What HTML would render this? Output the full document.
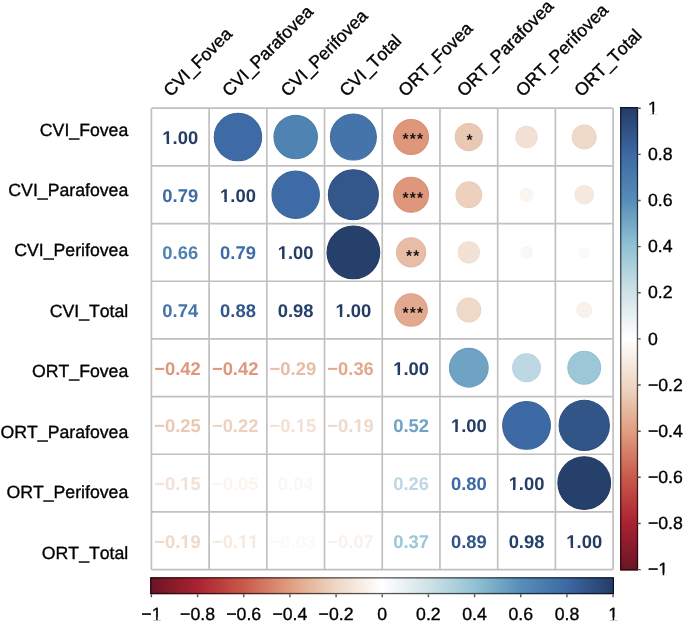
<!DOCTYPE html><html><head><meta charset="utf-8"><title>corrplot</title><style>html,body{margin:0;padding:0;background:#fff;width:685px;height:622px;overflow:hidden}svg{display:block;filter:blur(0.3px)}text{font-family:"Liberation Sans",sans-serif;text-rendering:geometricPrecision;font-kerning:none}.lab text{stroke:#000;stroke-width:0.35px}</style></head><body>
<svg width="685" height="622" viewBox="0 0 685 622">
<defs>
<linearGradient id="gv" gradientUnits="userSpaceOnUse" x1="0" y1="569.6" x2="0" y2="108.2"><stop offset="0.0" stop-color="#6a1525"/><stop offset="0.1" stop-color="#aa2231"/><stop offset="0.2" stop-color="#c95a4b"/><stop offset="0.3" stop-color="#e09e80"/><stop offset="0.4" stop-color="#eed7c5"/><stop offset="0.5" stop-color="#ffffff"/><stop offset="0.6" stop-color="#cfe2e8"/><stop offset="0.7" stop-color="#92c2d4"/><stop offset="0.8" stop-color="#568eb8"/><stop offset="0.9" stop-color="#3d69a4"/><stop offset="1.0" stop-color="#243c66"/></linearGradient>
<linearGradient id="gh" gradientUnits="userSpaceOnUse" x1="151.4" y1="0" x2="613.1" y2="0"><stop offset="0.0" stop-color="#6a1525"/><stop offset="0.1" stop-color="#aa2231"/><stop offset="0.2" stop-color="#c95a4b"/><stop offset="0.3" stop-color="#e09e80"/><stop offset="0.4" stop-color="#eed7c5"/><stop offset="0.5" stop-color="#ffffff"/><stop offset="0.6" stop-color="#cfe2e8"/><stop offset="0.7" stop-color="#92c2d4"/><stop offset="0.8" stop-color="#568eb8"/><stop offset="0.9" stop-color="#3d69a4"/><stop offset="1.0" stop-color="#243c66"/></linearGradient>
</defs>
<circle cx="237.97" cy="137.04" r="23.71" fill="#3e6ba5" stroke="#3a649a" stroke-width="1.1"/>
<circle cx="295.68" cy="137.04" r="21.72" fill="#4e83b2" stroke="#497ca8" stroke-width="1.1"/>
<circle cx="353.39" cy="137.04" r="22.97" fill="#4574aa" stroke="#406d9f" stroke-width="1.1"/>
<circle cx="411.11" cy="137.04" r="17.45" fill="#de977b" stroke="#d69176" stroke-width="1.1"/>
<text x="405.51" y="144.02" font-size="15.5" font-weight="bold" text-anchor="middle" fill="#111">*</text><text x="412.71" y="144.02" font-size="15.5" font-weight="bold" text-anchor="middle" fill="#111">*</text><text x="419.91" y="144.02" font-size="15.5" font-weight="bold" text-anchor="middle" fill="#111">*</text>
<circle cx="468.82" cy="137.04" r="13.60" fill="#eac9b4" stroke="#e5c4b0" stroke-width="1.1"/>
<text x="469.42" y="145.02" font-size="15.5" font-weight="bold" text-anchor="middle" fill="#111">*</text>
<circle cx="526.53" cy="137.04" r="10.67" fill="#f2e1d4" stroke="#efded1" stroke-width="1.1"/>
<circle cx="584.24" cy="137.04" r="11.93" fill="#efd9c8" stroke="#ebd5c4" stroke-width="1.1"/>
<circle cx="295.68" cy="194.71" r="23.71" fill="#3e6ba5" stroke="#3a649a" stroke-width="1.1"/>
<circle cx="353.39" cy="194.71" r="24.99" fill="#33578b" stroke="#2f5081" stroke-width="1.1"/>
<circle cx="411.11" cy="194.71" r="17.45" fill="#de977b" stroke="#d69176" stroke-width="1.1"/>
<text x="405.51" y="203.49" font-size="15.5" font-weight="bold" text-anchor="middle" fill="#111">*</text><text x="412.71" y="203.49" font-size="15.5" font-weight="bold" text-anchor="middle" fill="#111">*</text><text x="419.91" y="203.49" font-size="15.5" font-weight="bold" text-anchor="middle" fill="#111">*</text>
<circle cx="468.82" cy="194.71" r="12.80" fill="#edd1be" stroke="#e8cdba" stroke-width="1.1"/>
<circle cx="526.53" cy="194.71" r="6.41" fill="#fbf5f0" stroke="#f9f4ef" stroke-width="1.1"/>
<circle cx="584.24" cy="194.71" r="9.22" fill="#f6e9df" stroke="#f3e6dd" stroke-width="1.1"/>
<circle cx="353.39" cy="252.39" r="26.34" fill="#26406c" stroke="#233a63" stroke-width="1.1"/>
<circle cx="411.11" cy="252.39" r="14.60" fill="#e8bda6" stroke="#e2b8a2" stroke-width="1.1"/>
<text x="409.11" y="261.27" font-size="15.5" font-weight="bold" text-anchor="middle" fill="#111">*</text><text x="416.31" y="261.27" font-size="15.5" font-weight="bold" text-anchor="middle" fill="#111">*</text>
<circle cx="468.82" cy="252.39" r="10.67" fill="#f2e1d4" stroke="#efded1" stroke-width="1.1"/>
<circle cx="526.53" cy="252.39" r="5.80" fill="#f5f9fa" stroke="#f4f8f9" stroke-width="1.1"/>
<circle cx="584.24" cy="252.39" r="5.10" fill="#fcf9f6" stroke="#fbf8f5" stroke-width="1.1"/>
<circle cx="411.11" cy="310.06" r="16.20" fill="#e3a98e" stroke="#dca489" stroke-width="1.1"/>
<text x="405.51" y="318.24" font-size="15.5" font-weight="bold" text-anchor="middle" fill="#111">*</text><text x="412.71" y="318.24" font-size="15.5" font-weight="bold" text-anchor="middle" fill="#111">*</text><text x="419.91" y="318.24" font-size="15.5" font-weight="bold" text-anchor="middle" fill="#111">*</text>
<circle cx="468.82" cy="310.06" r="11.93" fill="#efd9c8" stroke="#ebd5c4" stroke-width="1.1"/>
<circle cx="584.24" cy="310.06" r="7.48" fill="#f9f1eb" stroke="#f7efe9" stroke-width="1.1"/>
<circle cx="468.82" cy="367.74" r="19.35" fill="#6ea3c3" stroke="#699cba" stroke-width="1.1"/>
<circle cx="526.53" cy="367.74" r="13.86" fill="#bdd8e2" stroke="#b9d3dd" stroke-width="1.1"/>
<circle cx="584.24" cy="367.74" r="16.42" fill="#9bc7d7" stroke="#96c1d0" stroke-width="1.1"/>
<circle cx="526.53" cy="425.41" r="23.86" fill="#3d69a4" stroke="#396299" stroke-width="1.1"/>
<circle cx="584.24" cy="425.41" r="25.13" fill="#325588" stroke="#2e4e7e" stroke-width="1.1"/>
<circle cx="584.24" cy="483.09" r="26.34" fill="#26406c" stroke="#233a63" stroke-width="1.1"/>
<text x="180.26" y="144.04" font-size="18.4" font-weight="bold" text-anchor="middle" fill="#243c66">1.00</text>
<text x="180.26" y="201.71" font-size="18.4" font-weight="bold" text-anchor="middle" fill="#3e6ba5">0.79</text>
<text x="237.97" y="201.71" font-size="18.4" font-weight="bold" text-anchor="middle" fill="#243c66">1.00</text>
<text x="180.26" y="259.39" font-size="18.4" font-weight="bold" text-anchor="middle" fill="#4e83b2">0.66</text>
<text x="237.97" y="259.39" font-size="18.4" font-weight="bold" text-anchor="middle" fill="#3e6ba5">0.79</text>
<text x="295.68" y="259.39" font-size="18.4" font-weight="bold" text-anchor="middle" fill="#243c66">1.00</text>
<text x="180.26" y="317.06" font-size="18.4" font-weight="bold" text-anchor="middle" fill="#4574aa">0.74</text>
<text x="237.97" y="317.06" font-size="18.4" font-weight="bold" text-anchor="middle" fill="#33578b">0.88</text>
<text x="295.68" y="317.06" font-size="18.4" font-weight="bold" text-anchor="middle" fill="#26406c">0.98</text>
<text x="353.39" y="317.06" font-size="18.4" font-weight="bold" text-anchor="middle" fill="#243c66">1.00</text>
<text x="177.46" y="374.74" font-size="18.4" font-weight="bold" text-anchor="middle" fill="#de977b">−0.42</text>
<text x="235.17" y="374.74" font-size="18.4" font-weight="bold" text-anchor="middle" fill="#de977b">−0.42</text>
<text x="292.88" y="374.74" font-size="18.4" font-weight="bold" text-anchor="middle" fill="#e8bda6">−0.29</text>
<text x="350.59" y="374.74" font-size="18.4" font-weight="bold" text-anchor="middle" fill="#e3a98e">−0.36</text>
<text x="411.11" y="374.74" font-size="18.4" font-weight="bold" text-anchor="middle" fill="#243c66">1.00</text>
<text x="177.46" y="432.41" font-size="18.4" font-weight="bold" text-anchor="middle" fill="#eac9b4">−0.25</text>
<text x="235.17" y="432.41" font-size="18.4" font-weight="bold" text-anchor="middle" fill="#edd1be">−0.22</text>
<text x="292.88" y="432.41" font-size="18.4" font-weight="bold" text-anchor="middle" fill="#f2e1d4">−0.15</text>
<text x="350.59" y="432.41" font-size="18.4" font-weight="bold" text-anchor="middle" fill="#efd9c8">−0.19</text>
<text x="411.11" y="432.41" font-size="18.4" font-weight="bold" text-anchor="middle" fill="#6ea3c3">0.52</text>
<text x="468.82" y="432.41" font-size="18.4" font-weight="bold" text-anchor="middle" fill="#243c66">1.00</text>
<text x="177.46" y="490.09" font-size="18.4" font-weight="bold" text-anchor="middle" fill="#f2e1d4">−0.15</text>
<text x="235.17" y="490.09" font-size="18.4" font-weight="bold" text-anchor="middle" fill="#fbf5f0">−0.05</text>
<text x="295.68" y="490.09" font-size="18.4" font-weight="bold" text-anchor="middle" fill="#f5f9fa">0.04</text>
<text x="411.11" y="490.09" font-size="18.4" font-weight="bold" text-anchor="middle" fill="#bdd8e2">0.26</text>
<text x="468.82" y="490.09" font-size="18.4" font-weight="bold" text-anchor="middle" fill="#3d69a4">0.80</text>
<text x="526.53" y="490.09" font-size="18.4" font-weight="bold" text-anchor="middle" fill="#243c66">1.00</text>
<text x="177.46" y="547.76" font-size="18.4" font-weight="bold" text-anchor="middle" fill="#efd9c8">−0.19</text>
<text x="235.17" y="547.76" font-size="18.4" font-weight="bold" text-anchor="middle" fill="#f6e9df">−0.11</text>
<text x="292.88" y="547.76" font-size="18.4" font-weight="bold" text-anchor="middle" fill="#fcf9f6">−0.03</text>
<text x="350.59" y="547.76" font-size="18.4" font-weight="bold" text-anchor="middle" fill="#f9f1eb">−0.07</text>
<text x="411.11" y="547.76" font-size="18.4" font-weight="bold" text-anchor="middle" fill="#9bc7d7">0.37</text>
<text x="468.82" y="547.76" font-size="18.4" font-weight="bold" text-anchor="middle" fill="#325588">0.89</text>
<text x="526.53" y="547.76" font-size="18.4" font-weight="bold" text-anchor="middle" fill="#26406c">0.98</text>
<text x="584.24" y="547.76" font-size="18.4" font-weight="bold" text-anchor="middle" fill="#243c66">1.00</text>
<path d="M151.40 108.2V569.6M151.4 108.20H613.1M209.11 108.2V569.6M151.4 165.88H613.1M266.83 108.2V569.6M151.4 223.55H613.1M324.54 108.2V569.6M151.4 281.23H613.1M382.25 108.2V569.6M151.4 338.90H613.1M439.96 108.2V569.6M151.4 396.57H613.1M497.68 108.2V569.6M151.4 454.25H613.1M555.39 108.2V569.6M151.4 511.93H613.1M613.10 108.2V569.6M151.4 569.60H613.1" stroke="#c0c0c0" stroke-width="1.7" fill="none"/>
<g class="lab"><text x="128.30" y="135.50" font-size="17.7" text-anchor="end">CVI_Fovea</text><text x="128.30" y="195.97" font-size="17.7" text-anchor="end">CVI_Parafovea</text><text x="128.30" y="256.44" font-size="17.7" text-anchor="end">CVI_Perifovea</text><text x="128.30" y="316.91" font-size="17.7" text-anchor="end">CVI_Total</text><text x="128.30" y="377.38" font-size="17.7" text-anchor="end">ORT_Fovea</text><text x="128.30" y="437.85" font-size="17.7" text-anchor="end">ORT_Parafovea</text><text x="128.30" y="498.32" font-size="17.7" text-anchor="end">ORT_Perifovea</text><text x="128.30" y="558.79" font-size="17.7" text-anchor="end">ORT_Total</text></g>
<g class="lab"><text x="170.70" y="97.60" font-size="17.7" transform="rotate(-45 170.70 97.60)">CVI_Fovea</text><text x="229.40" y="97.60" font-size="17.7" transform="rotate(-45 229.40 97.60)">CVI_Parafovea</text><text x="288.10" y="97.60" font-size="17.7" transform="rotate(-45 288.10 97.60)">CVI_Perifovea</text><text x="346.80" y="97.60" font-size="17.7" transform="rotate(-45 346.80 97.60)">CVI_Total</text><text x="405.50" y="97.60" font-size="17.7" transform="rotate(-45 405.50 97.60)">ORT_Fovea</text><text x="464.20" y="97.60" font-size="17.7" transform="rotate(-45 464.20 97.60)">ORT_Parafovea</text><text x="522.90" y="97.60" font-size="17.7" transform="rotate(-45 522.90 97.60)">ORT_Perifovea</text><text x="581.60" y="97.60" font-size="17.7" transform="rotate(-45 581.60 97.60)">ORT_Total</text></g>
<rect x="620.1" y="107.0" width="18.0" height="463.5" fill="url(#gv)"/><rect x="620.75" y="107.65" width="16.7" height="462.2" fill="none" stroke="#000" stroke-opacity="0.65" stroke-width="1.3"/>
<path d="M637.3 108.20H640.7M637.3 154.34H640.7M637.3 200.48H640.7M637.3 246.62H640.7M637.3 292.76H640.7M637.3 338.90H640.7M637.3 385.04H640.7M637.3 431.18H640.7M637.3 477.32H640.7M637.3 523.46H640.7M637.3 569.60H640.7" stroke="#5a5246" stroke-width="1.4"/>
<rect x="150.1" y="577.2" width="463.9" height="17.0" fill="url(#gh)"/><rect x="150.75" y="577.85" width="462.6" height="15.7" fill="none" stroke="#000" stroke-opacity="0.65" stroke-width="1.3"/>
<path d="M151.40 594.2V597.2M197.57 594.2V597.2M243.74 594.2V597.2M289.91 594.2V597.2M336.08 594.2V597.2M382.25 594.2V597.2M428.42 594.2V597.2M474.59 594.2V597.2M520.76 594.2V597.2M566.93 594.2V597.2M613.10 594.2V597.2" stroke="#5a5246" stroke-width="1.4"/>
<g class="lab"><text x="647.90" y="113.80" font-size="17.7">1</text><text x="647.90" y="159.94" font-size="17.7">0.8</text><text x="647.90" y="206.08" font-size="17.7">0.6</text><text x="647.90" y="252.22" font-size="17.7">0.4</text><text x="647.90" y="298.36" font-size="17.7">0.2</text><text x="647.90" y="344.50" font-size="17.7">0</text><text x="647.90" y="390.64" font-size="17.7">−0.2</text><text x="647.90" y="436.78" font-size="17.7">−0.4</text><text x="647.90" y="482.92" font-size="17.7">−0.6</text><text x="647.90" y="529.06" font-size="17.7">−0.8</text><text x="647.90" y="575.20" font-size="17.7">−1</text><text x="151.40" y="619.50" font-size="17.7" text-anchor="middle">−1</text><text x="197.57" y="619.50" font-size="17.7" text-anchor="middle">−0.8</text><text x="243.74" y="619.50" font-size="17.7" text-anchor="middle">−0.6</text><text x="289.91" y="619.50" font-size="17.7" text-anchor="middle">−0.4</text><text x="336.08" y="619.50" font-size="17.7" text-anchor="middle">−0.2</text><text x="382.25" y="619.50" font-size="17.7" text-anchor="middle">0</text><text x="428.42" y="619.50" font-size="17.7" text-anchor="middle">0.2</text><text x="474.59" y="619.50" font-size="17.7" text-anchor="middle">0.4</text><text x="520.76" y="619.50" font-size="17.7" text-anchor="middle">0.6</text><text x="566.93" y="619.50" font-size="17.7" text-anchor="middle">0.8</text><text x="613.10" y="619.50" font-size="17.7" text-anchor="middle">1</text></g>
<g fill="#fff"><rect x="162.66" y="141.39" width="3.98" height="3.35"/><rect x="169.17" y="141.39" width="3.75" height="3.35"/><rect x="220.37" y="199.06" width="3.98" height="3.35"/><rect x="226.88" y="199.06" width="3.75" height="3.35"/><rect x="278.09" y="256.74" width="3.98" height="3.35"/><rect x="284.59" y="256.74" width="3.75" height="3.35"/><rect x="335.80" y="314.41" width="3.98" height="3.35"/><rect x="342.31" y="314.41" width="3.75" height="3.35"/><rect x="393.51" y="372.09" width="3.98" height="3.35"/><rect x="400.02" y="372.09" width="3.75" height="3.35"/><rect x="296.01" y="429.76" width="3.98" height="3.35"/><rect x="302.51" y="429.76" width="3.75" height="3.35"/><rect x="353.72" y="429.76" width="3.98" height="3.35"/><rect x="360.22" y="429.76" width="3.75" height="3.35"/><rect x="451.22" y="429.76" width="3.98" height="3.35"/><rect x="457.73" y="429.76" width="3.75" height="3.35"/><rect x="180.58" y="487.44" width="3.98" height="3.35"/><rect x="187.09" y="487.44" width="3.75" height="3.35"/><rect x="508.94" y="487.44" width="3.98" height="3.35"/><rect x="515.44" y="487.44" width="3.75" height="3.35"/><rect x="180.58" y="545.11" width="3.98" height="3.35"/><rect x="187.09" y="545.11" width="3.75" height="3.35"/><rect x="238.29" y="545.11" width="3.98" height="3.35"/><rect x="244.80" y="545.11" width="3.75" height="3.35"/><rect x="248.53" y="545.11" width="3.98" height="3.35"/><rect x="255.03" y="545.11" width="3.75" height="3.35"/><rect x="566.65" y="545.11" width="3.98" height="3.35"/><rect x="573.16" y="545.11" width="3.75" height="3.35"/><rect x="648.40" y="111.70" width="3.95" height="2.80"/><rect x="653.91" y="111.70" width="3.80" height="2.80"/><rect x="658.74" y="573.10" width="3.95" height="2.80"/><rect x="664.25" y="573.10" width="3.80" height="2.80"/><rect x="152.15" y="617.40" width="3.95" height="2.80"/><rect x="157.66" y="617.40" width="3.80" height="2.80"/><rect x="608.68" y="617.40" width="3.95" height="2.80"/><rect x="614.19" y="617.40" width="3.80" height="2.80"/></g>
</svg></body></html>
